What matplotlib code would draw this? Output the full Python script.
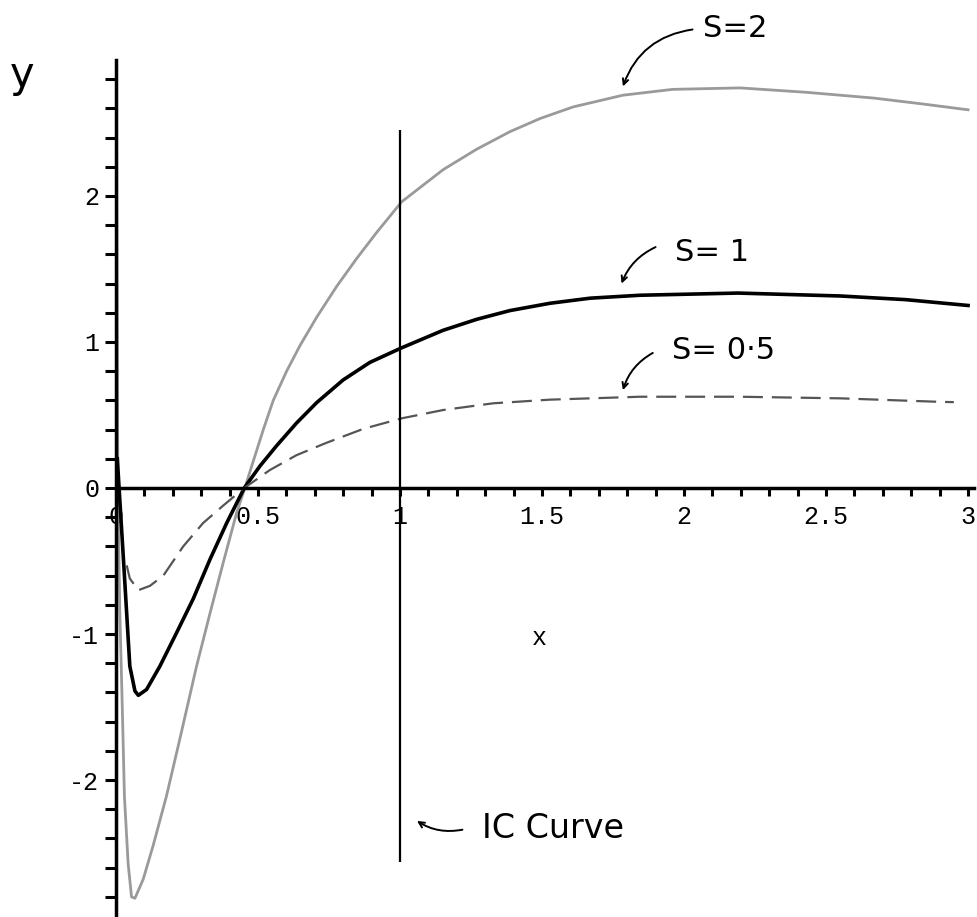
import matplotlib.pyplot as plt
from matplotlib.ticker import FixedLocator

plt.rcParams["axes.unicode_minus"] = False

# curve values
x_s2 = [0.002, 0.004, 0.006, 0.008, 0.014, 0.023, 0.03, 0.043, 0.055, 0.067,
        0.096, 0.131, 0.178, 0.225, 0.284, 0.331, 0.378, 0.425, 0.454, 0.483,
        0.519, 0.554, 0.601, 0.648, 0.707, 0.777, 0.847, 0.918, 1.006, 1.152,
        1.27, 1.387, 1.493, 1.61, 1.785, 1.96, 2.197, 2.43, 2.67, 2.84, 3.0]
y_s2 = [2.9, 1.5, 0.4, -0.165, -0.86, -1.54, -2.11, -2.57, -2.80, -2.81,
        -2.68, -2.45, -2.11, -1.72, -1.22, -0.86, -0.51, -0.17, 0.0, 0.18,
        0.40, 0.60, 0.80, 0.975, 1.17, 1.38, 1.57, 1.75, 1.96, 2.18,
        2.32, 2.44, 2.53, 2.61, 2.69, 2.73, 2.74, 2.71, 2.67, 2.63, 2.59]

x_s1 = [0.005, 0.015, 0.026, 0.038, 0.049, 0.067, 0.079, 0.108, 0.155, 0.214,
        0.272, 0.331, 0.39, 0.452, 0.507, 0.566, 0.636, 0.707, 0.80, 0.894,
        1.006, 1.152, 1.27, 1.387, 1.528, 1.67, 1.845, 2.19, 2.55, 2.78, 3.0]
y_s1 = [0.2, -0.12, -0.47, -0.86, -1.22, -1.39, -1.42, -1.38, -1.22, -0.99,
        -0.76, -0.49, -0.24, 0.0, 0.15, 0.29, 0.445, 0.585, 0.74, 0.86,
        0.96, 1.08, 1.155, 1.215, 1.265, 1.30, 1.32, 1.335, 1.315, 1.29, 1.25]

x_s05 = [0.038, 0.049, 0.079, 0.12, 0.167, 0.237, 0.307, 0.378, 0.452, 0.542,
         0.636, 0.742, 0.871, 1.006, 1.152, 1.328, 1.528, 1.845, 2.197, 2.55,
         2.9, 2.95]
y_s05 = [-0.53, -0.62, -0.70, -0.67, -0.60, -0.40, -0.24, -0.12, 0.0, 0.123,
         0.225, 0.31, 0.405, 0.477, 0.534, 0.58, 0.605, 0.625, 0.625, 0.614,
         0.59, 0.588]

ic_x = 1.0
ic_y = [-2.56, 2.45]

x_ticklabels = ["0", "0.5", "1", "1.5", "2", "2.5", "3"]
y_ticklabels = ["-2", "-1", "0", "1", "2"]

fig = plt.figure(figsize=(9.78, 9.17), dpi=100)
ax = fig.add_axes([0, 0, 1, 1])
ax.set_xlim(-0.408, 3.035)
ax.set_ylim(-2.938, 3.342)

# Maple style axes through the origin
for side in ["top", "right"]:
    ax.spines[side].set_visible(False)
ax.spines["left"].set_position(("data", 0))
ax.spines["bottom"].set_position(("data", 0))
ax.spines["left"].set_bounds(-2.95, 2.93)
ax.spines["bottom"].set_bounds(0, 3.02)
ax.spines["left"].set_linewidth(2.5)
ax.spines["bottom"].set_linewidth(2.5)

mono = "Liberation Mono"
ax.xaxis.set_major_locator(FixedLocator([float(t) for t in x_ticklabels]))
ax.xaxis.set_minor_locator(FixedLocator([v / 10 for v in range(1, 31)]))
ax.set_xticklabels(x_ticklabels, family=mono, fontsize=18)
ax.yaxis.set_major_locator(FixedLocator([float(t) for t in y_ticklabels]))
ax.yaxis.set_minor_locator(FixedLocator([v / 5 for v in range(-14, 15)]))
ax.set_yticklabels(y_ticklabels, family=mono, fontsize=18)
ax.tick_params(axis="x", which="both", direction="out", length=6, width=2.2, pad=6)
ax.tick_params(axis="y", which="both", direction="out", length=8, width=2.2, pad=4)

ax.plot(x_s2, y_s2, color="#9a9a9a", lw=2.0, solid_joinstyle="round")
ax.plot(x_s1, y_s1, color="black", lw=2.6, solid_joinstyle="round")
ax.plot(x_s05, y_s05, color="#555555", lw=1.6, linestyle=(0, (9, 4)))
ax.vlines(ic_x, ic_y[0], ic_y[1], color="black", lw=1.6)

ax.text(1.49, -1.03, "x", family=mono, fontsize=18, ha="center", va="center")
ax.text(-0.33, 2.83, "y", fontsize=30, ha="center", va="center")

# handwritten notes
arrow = dict(arrowstyle="->", color="black", lw=1.4, shrinkA=0, shrinkB=0)
ax.text(2.18, 3.15, "S=2", fontsize=22, ha="center", va="center")
ax.annotate("", xy=(1.785, 2.75), xytext=(2.03, 3.14),
            arrowprops=dict(arrow, connectionstyle="arc3,rad=0.3"))
ax.text(2.10, 1.61, "S= 1", fontsize=22, ha="center", va="center")
ax.annotate("", xy=(1.78, 1.40), xytext=(1.90, 1.65),
            arrowprops=dict(arrow, connectionstyle="arc3,rad=0.2"))
ax.text(2.14, 0.94, "S= 0·5", fontsize=22, ha="center", va="center")
ax.annotate("", xy=(1.785, 0.67), xytext=(1.89, 0.925),
            arrowprops=dict(arrow, connectionstyle="arc3,rad=0.2"))
ax.text(1.29, -2.33, "IC Curve", fontsize=24, ha="left", va="center")
ax.annotate("", xy=(1.06, -2.28), xytext=(1.22, -2.34),
            arrowprops=dict(arrow, connectionstyle="arc3,rad=-0.2"))

fig.savefig("out.png", dpi=100)
